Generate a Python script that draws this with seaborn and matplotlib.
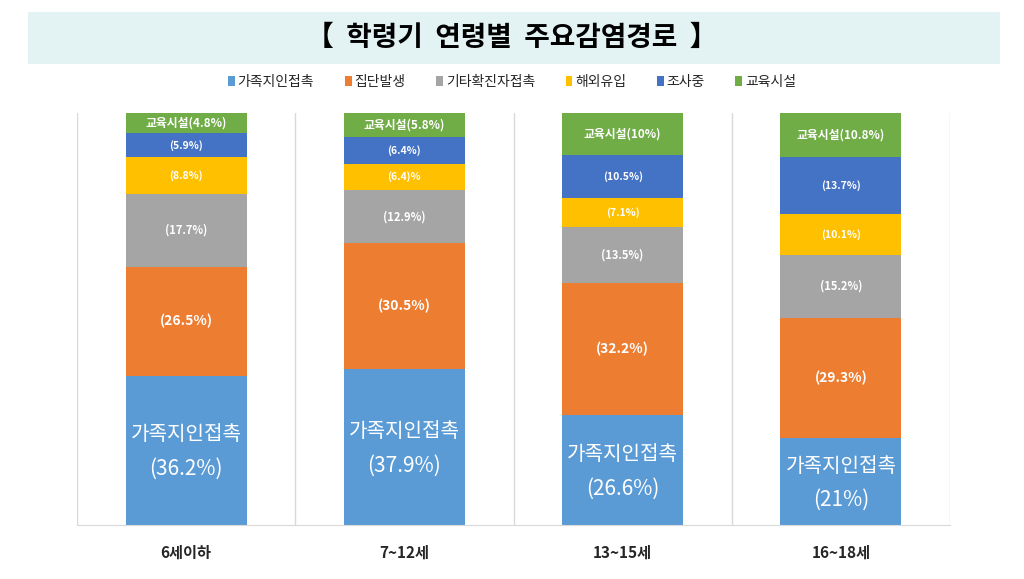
import matplotlib
matplotlib.use('Agg')
import matplotlib.pyplot as plt
from matplotlib.patches import Patch, Rectangle
import numpy as np
import seaborn as sns

ages = ['6세이하', '7~12세', '13~15세', '16~18세']
routes = ['가족지인접촉', '집단발생', '기타확진자접촉', '해외유입', '조사중', '교육시설']
colors = ['#5B9BD5', '#ED7D31', '#A5A5A5', '#FFC000', '#4472C4', '#70AD47']

family = [36.2, 37.9, 26.6, 21.0]
cluster = [26.5, 30.5, 32.2, 29.3]
other_contact = [17.7, 12.9, 13.5, 15.2]
overseas = [8.8, 6.4, 7.1, 10.1]
investigating = [5.9, 6.4, 10.5, 13.7]
school = [4.8, 5.8, 10.0, 10.8]

family_labels = ['(36.2%)', '(37.9%)', '(26.6%)', '(21%)']
cluster_labels = ['(26.5%)', '(30.5%)', '(32.2%)', '(29.3%)']
other_labels = ['(17.7%)', '(12.9%)', '(13.5%)', '(15.2%)']
overseas_labels = ['(8.8%)', '(6.4)%', '(7.1%)', '(10.1%)']
invest_labels = ['(5.9%)', '(6.4%)', '(10.5%)', '(13.7%)']
school_labels = ['교육시설(4.8%)', '교육시설(5.8%)', '교육시설(10%)', '교육시설(10.8%)']

sns.set_style('white')
plt.rcParams['font.family'] = ['Noto Sans CJK KR', 'DejaVu Sans']

fig = plt.figure(figsize=(10.24, 5.79), dpi=100)
ax = fig.add_axes([77 / 1024, 54 / 579, 873 / 1024, 412 / 579])

# title band
fig.patches.append(Rectangle((28 / 1024, 1 - 64 / 579), 972 / 1024, 52 / 579,
                             transform=fig.transFigure, facecolor='#E3F2F3',
                             edgecolor='none', zorder=0))
fig.text(0.5, 1 - 38 / 579, '【  학령기  연령별  주요감염경로  】', ha='center', va='center',
         fontsize=20, fontweight='bold', color='black')

layers = [family, cluster, other_contact, overseas, investigating, school]
label_sets = [family_labels, cluster_labels, other_labels, overseas_labels,
              invest_labels, school_labels]
sizes = [15, 10, 8, 7.5, 7.5, 8.5]

bottom = np.zeros(len(ages))
for vals, col, labs, fs, name in zip(layers, colors, label_sets, sizes, routes):
    sns.barplot(x=ages, y=vals, bottom=bottom, color=col, width=0.555,
                ax=ax, saturation=1, linewidth=0, zorder=2)
    for i, v in enumerate(vals):
        mid = bottom[i] + v / 2
        if name == '가족지인접촉':
            ax.text(i, mid + 3.8, '가족지인접촉', ha='center', va='center',
                    color='white', fontsize=14.5)
            ax.text(i, mid - 4.5, labs[i], ha='center', va='center',
                    color='white', fontsize=15)
        else:
            ax.text(i, mid, labs[i], ha='center', va='center', color='white',
                    fontsize=fs, fontweight='bold')
    bottom = bottom + np.array(vals)

ax.set_xlim(-0.5, 3.5)
ax.set_ylim(0, 100)
for b in np.arange(-0.5, 4, 1):
    ax.axvline(b, color='#D9D9D9', lw=1, zorder=1)
ax.set_yticks([])
ax.set_ylabel('')
ax.set_xlabel('')
for s in ['top', 'left', 'right']:
    ax.spines[s].set_visible(False)
ax.spines['bottom'].set_color('#D9D9D9')
ax.tick_params(axis='x', length=0, pad=14)
for t in ax.get_xticklabels():
    t.set_fontweight('bold')
    t.set_fontsize(11)

handles = [Patch(facecolor=c, edgecolor='none') for c in colors]
fig.legend(handles, routes, loc='center', bbox_to_anchor=(0.5, 1 - 82 / 579),
           ncol=6, frameon=False, fontsize=10, handlelength=0.5, handleheight=0.7,
           handletextpad=0.2, columnspacing=2.2)

fig.savefig('out.png', dpi=100)
